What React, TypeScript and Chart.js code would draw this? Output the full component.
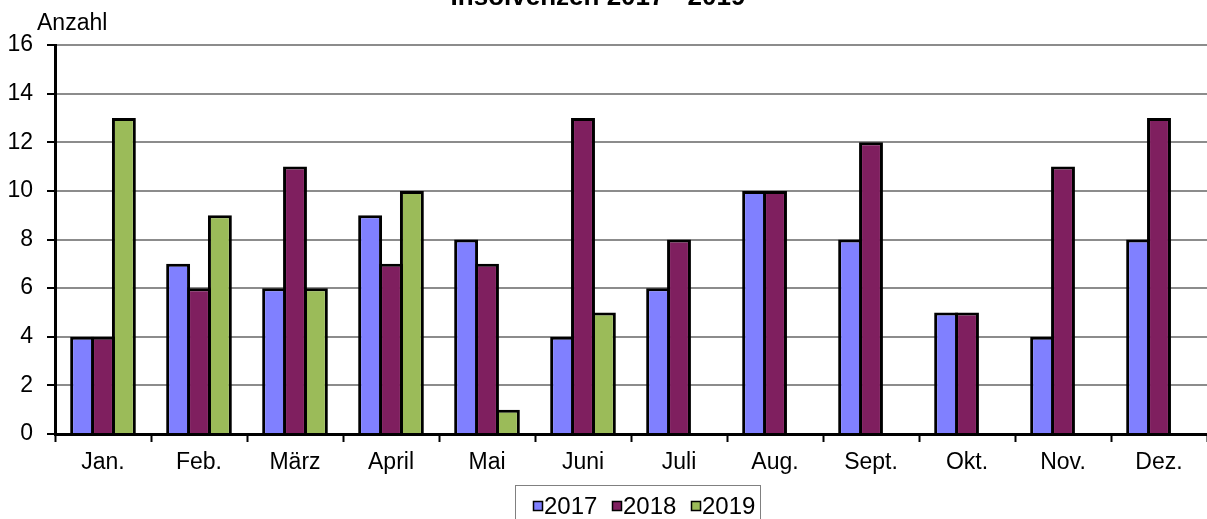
import React, { useEffect, useRef } from "react";
import { Chart, registerables } from "chart.js";

Chart.register(...registerables);

const categories = ["Jan.", "Feb.", "März", "April", "Mai", "Juni", "Juli", "Aug.", "Sept.", "Okt.", "Nov.", "Dez."];
const values2017 = [4, 7, 6, 9, 8, 4, 6, 10, 8, 5, 4, 8];
const values2018 = [4, 6, 11, 7, 7, 13, 8, 10, 12, 5, 11, 13];
const values2019 = [13, 9, 6, 10, 1, 5, null, null, null, null, null, null];
const seriesNames = ["2017", "2018", "2019"];
const seriesColors = ["#8080FF", "#7F1F5F", "#9BBB59"];
const titleText = "Insolvenzen 2017 - 2019";
const yAxisTitle = "Anzahl";

const FONT = "'Liberation Sans', Arial, sans-serif";

const overlayPlugin = {
  id: "overlay",
  afterDraw(chart: any) {
    const ctx = chart.ctx as CanvasRenderingContext2D;
    ctx.save();
    // Title (cut off at top)
    ctx.fillStyle = "#000";
    ctx.font = `bold 26px ${FONT}`;
    ctx.textAlign = "center";
    ctx.textBaseline = "alphabetic";
    ctx.fillText(titleText, 598, 5);
    // Axis title
    ctx.font = `23px ${FONT}`;
    ctx.textAlign = "left";
    ctx.fillText(yAxisTitle, 37, 30);
    // Legend box
    const bx = 515.5, by = 485.5, bw = 245, bh = 40;
    ctx.fillStyle = "#fff";
    ctx.fillRect(bx, by, bw, bh);
    ctx.strokeStyle = "#808080";
    ctx.lineWidth = 1;
    ctx.strokeRect(bx, by, bw, bh);
    const itemX = [533, 612, 691];
    ctx.font = `24px ${FONT}`;
    ctx.textBaseline = "middle";
    seriesNames.forEach((name, i) => {
      const x = itemX[i];
      ctx.fillStyle = seriesColors[i];
      ctx.fillRect(x, 501, 10, 10);
      ctx.strokeStyle = "#000";
      ctx.lineWidth = 1.5;
      ctx.strokeRect(x + 0.5, 501.5, 9, 9);
      ctx.fillStyle = "#000";
      ctx.textAlign = "left";
      ctx.fillText(name, x + 11, 507);
    });
    ctx.restore();
  },
};

export default function App() {
  const ref = useRef<HTMLCanvasElement | null>(null);
  useEffect(() => {
    if (!ref.current) return;
    Chart.defaults.font.family = FONT;
    const chart = new Chart(ref.current, {
      type: "bar",
      data: {
        labels: categories,
        datasets: [values2017, values2018, values2019].map((d, i) => ({
          label: seriesNames[i],
          data: d as any,
          backgroundColor: seriesColors[i],
          borderColor: "#000",
          borderWidth: 3,
          categoryPercentage: 0.653,
          barPercentage: 1.1435,
        })),
      },
      options: {
        animation: false,
        responsive: false,
        maintainAspectRatio: false,
        layout: { padding: { top: 45, left: 0, right: 0, bottom: 0 } },
        plugins: {
          legend: { display: false },
          title: { display: false },
          tooltip: { enabled: false },
        },
        scales: {
          x: {
            offset: true,
            grid: {
              offset: true,
              drawOnChartArea: false,
              drawTicks: true,
              tickLength: 8,
              tickWidth: 2,
              tickColor: "#000",
            },
            border: { display: true, color: "#000", width: 3 },
            ticks: { color: "#000", font: { size: 23, family: FONT }, padding: 7, maxRotation: 0 },
            afterFit: (scale: any) => {
              scale.height = 85;
            },
          },
          y: {
            min: 0,
            max: 16,
            ticks: { stepSize: 2, color: "#000", font: { size: 23, family: FONT }, padding: 14 },
            grid: {
              color: "#8c8c8c",
              lineWidth: 2,
              drawTicks: true,
              tickLength: 8,
              tickWidth: 2,
              tickColor: "#000",
            },
            border: { display: true, color: "#000", width: 3 },
            afterFit: (scale: any) => {
              scale.width = 55;
            },
          },
        },
      } as any,
      plugins: [overlayPlugin],
    });
    return () => chart.destroy();
  }, []);
  return (
    <div style={{ position: "fixed", left: 0, top: 0, width: 1207, height: 519, background: "#fff" }}>
      <canvas ref={ref} width={1207} height={519} style={{ display: "block" }} />
    </div>
  );
}
